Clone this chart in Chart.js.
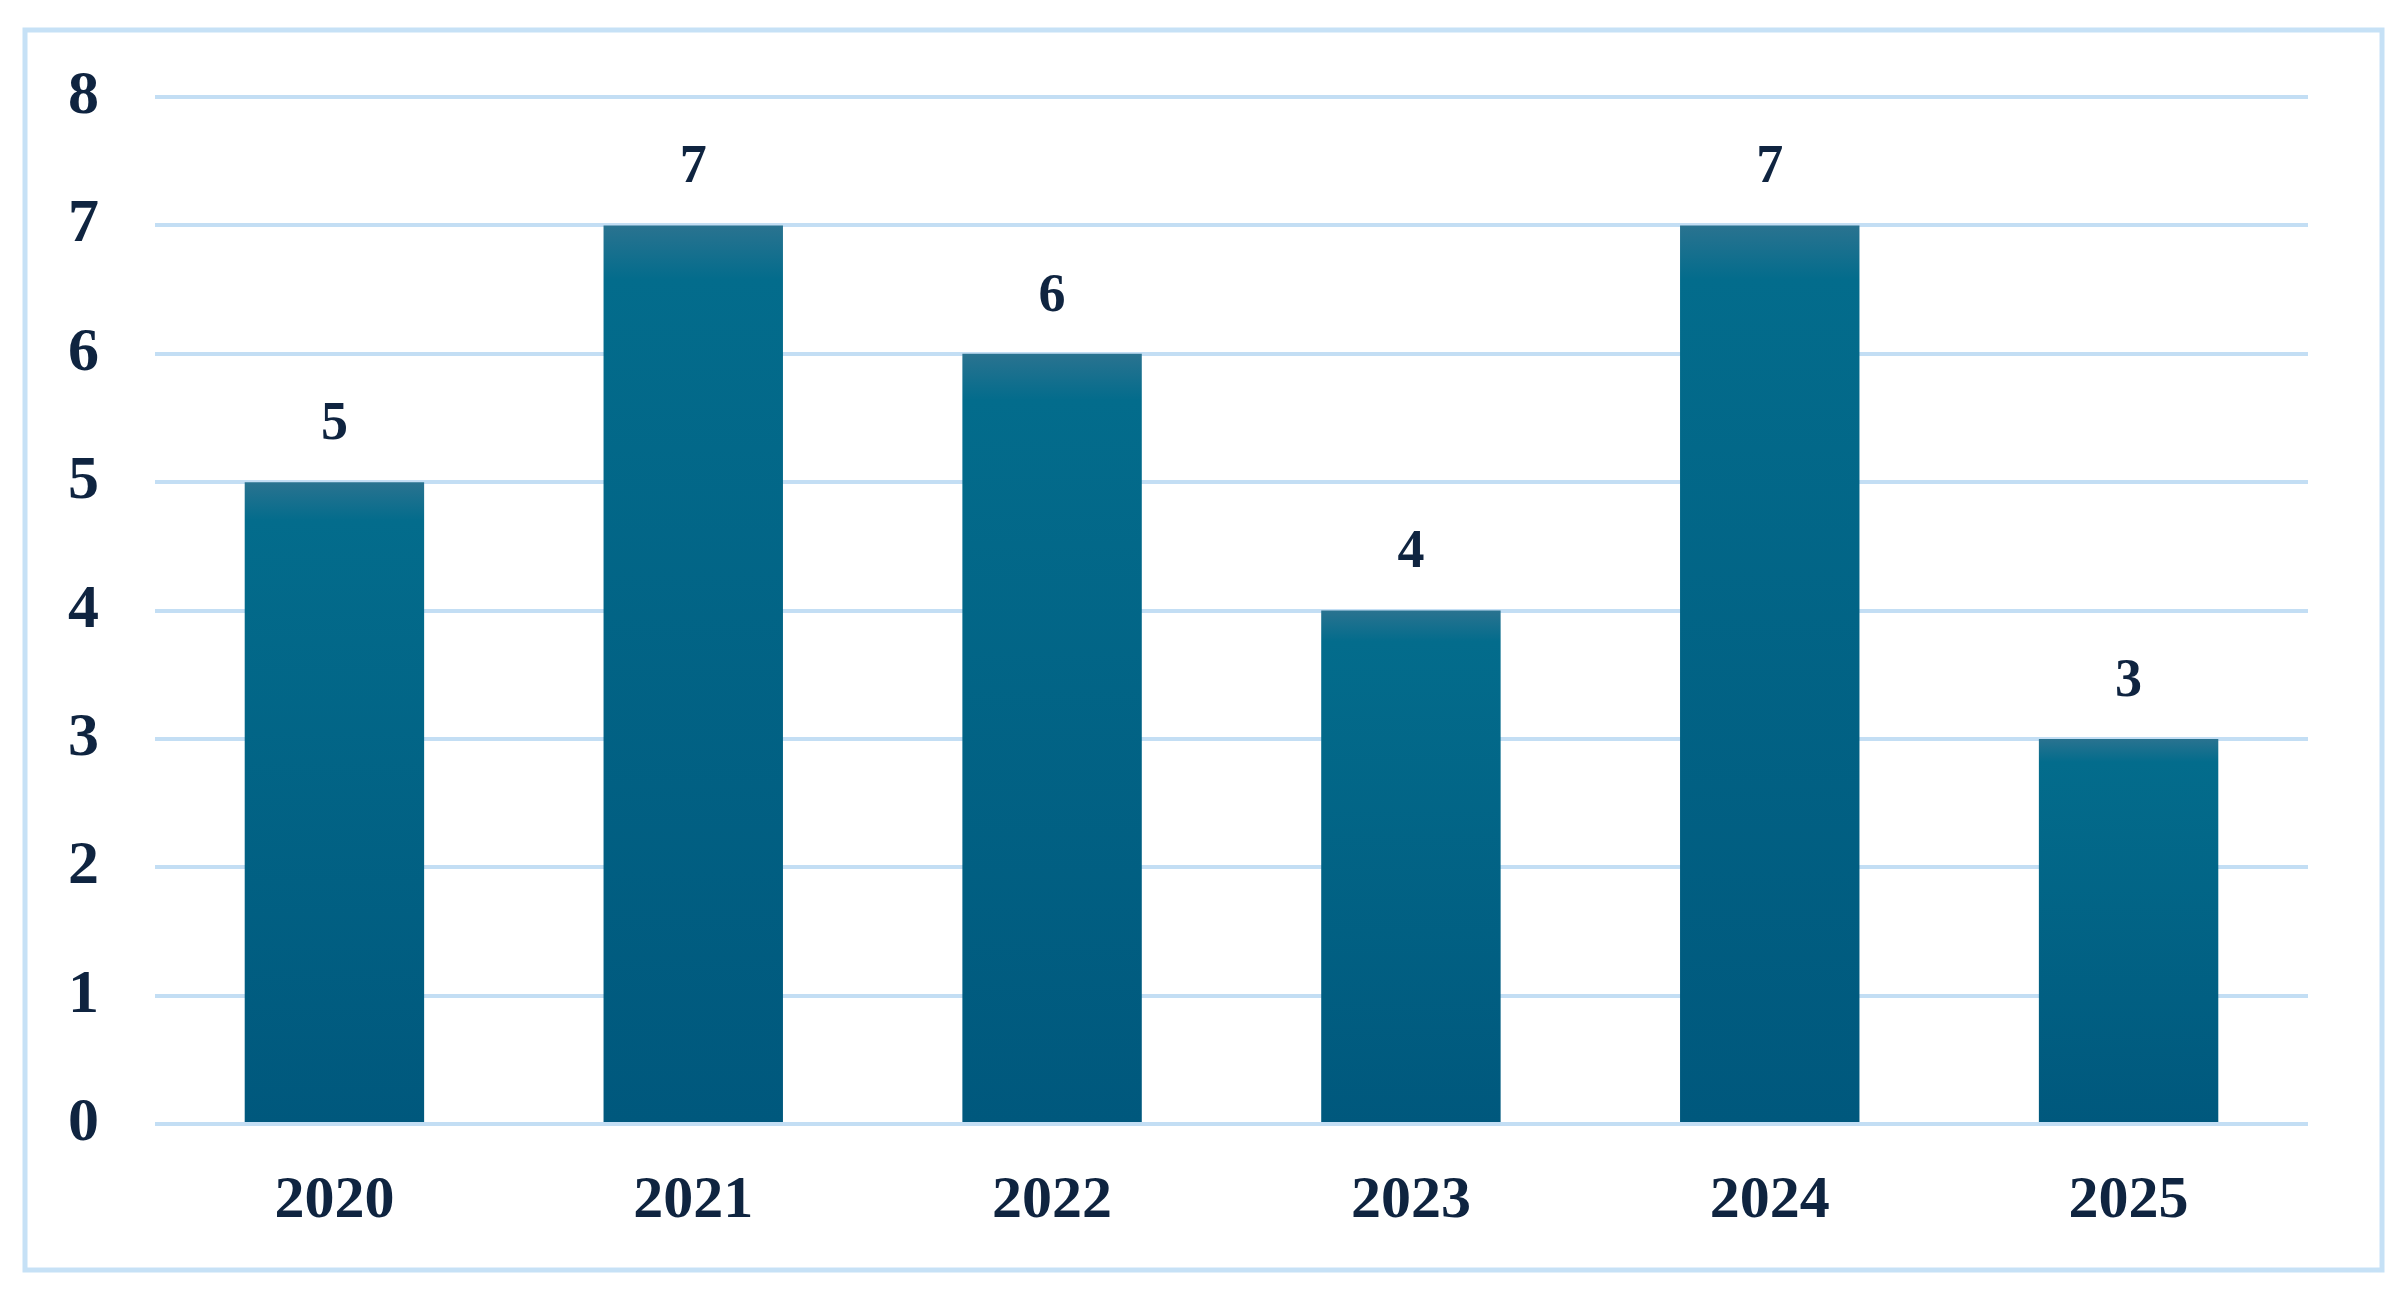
<!DOCTYPE html>
<html>
<head>
<meta charset="utf-8">
<script src="https://cdn.jsdelivr.net/npm/chart.js@4/dist/chart.umd.min.js"></script>
<style>
  html, body { margin: 0; padding: 0; background: #fff; }
  #wrap { width: 2403px; height: 1297px; position: relative; }
</style>
</head>
<body>
<div id="wrap"><canvas id="chart"></canvas></div>
<script>
const years = ["2020", "2021", "2022", "2023", "2024", "2025"];
const counts = [5, 7, 6, 4, 7, 3];
const yTicks = [0, 1, 2, 3, 4, 5, 6, 7, 8];

const textColor = "#0f2440";
const gridColor = "#c3def4";
const serifFamily = "'Times New Roman', 'Liberation Serif', Times, serif";

function barGradient(context) {
  const chart = context.chart;
  const area = chart.chartArea;
  if (!area || context.dataIndex === undefined) {
    return "#006a8b";
  }
  const yScale = chart.scales.y;
  const top = yScale.getPixelForValue(counts[context.dataIndex]);
  const bottom = yScale.getPixelForValue(0);
  const g = chart.ctx.createLinearGradient(0, top, 0, bottom);
  g.addColorStop(0, "#2a7390");
  g.addColorStop(0.06, "#036c8c");
  g.addColorStop(1, "#00587d");
  return g;
}

// frame around the chart
const framePlugin = {
  id: "frame",
  beforeDraw(chart) {
    const { ctx } = chart;
    ctx.save();
    ctx.fillStyle = "#fff";
    ctx.fillRect(0, 0, chart.width, chart.height);
    ctx.strokeStyle = "#c6e1f6";
    ctx.lineWidth = 5;
    ctx.strokeRect(25, 30, 2357, 1240);
    ctx.restore();
  },
};

// value labels above each bar
const valueLabels = {
  id: "valueLabels",
  afterDatasetsDraw(chart) {
    const { ctx } = chart;
    const meta = chart.getDatasetMeta(0);
    ctx.save();
    ctx.fillStyle = textColor;
    ctx.font = "bold 54px " + serifFamily;
    ctx.textAlign = "center";
    ctx.textBaseline = "middle";
    meta.data.forEach((bar, i) => {
      ctx.fillText(String(counts[i]), bar.x, bar.y - 57);
    });
    ctx.restore();
  },
};

new Chart(document.querySelector("#chart"), {
  type: "bar",
  data: {
    labels: years,
    datasets: [
      {
        data: counts,
        backgroundColor: barGradient,
        borderWidth: 0,
        barPercentage: 0.5,
        categoryPercentage: 1,
      },
    ],
  },
  options: {
    responsive: true,
    maintainAspectRatio: false,
    animation: false,
    layout: {
      padding: { top: 97, right: 95, bottom: 0, left: 0 },
    },
    plugins: {
      legend: { display: false },
      tooltip: { enabled: false },
    },
    scales: {
      x: {
        grid: { display: false },
        border: { display: false },
        ticks: {
          color: textColor,
          padding: 33,
          font: { family: serifFamily, size: 60, weight: "bold" },
        },
        afterFit: (scale) => {
          scale.height = 173;
        },
      },
      y: {
        min: 0,
        max: 8,
        afterBuildTicks: (scale) => {
          scale.ticks = yTicks.map((v) => ({ value: v }));
        },
        grid: {
          color: gridColor,
          lineWidth: 4,
          drawTicks: false,
        },
        border: { display: false },
        ticks: {
          color: textColor,
          padding: 56,
          font: { family: serifFamily, size: 62, weight: "bold" },
        },
        afterFit: (scale) => {
          scale.width = 155;
        },
      },
    },
  },
  plugins: [framePlugin, valueLabels],
});
</script>
</body>
</html>
